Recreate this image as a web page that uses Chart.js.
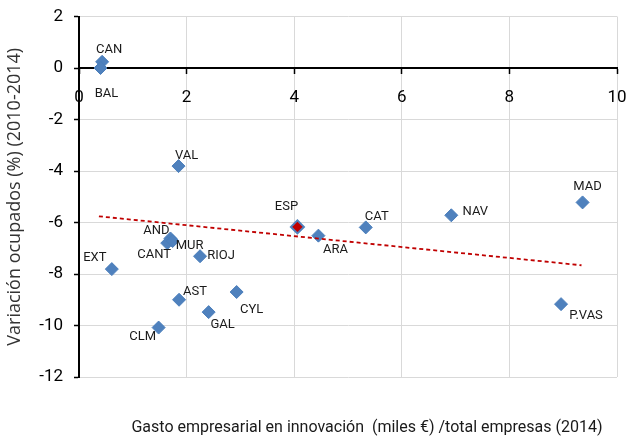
<!DOCTYPE html>
<html><head><meta charset="utf-8">
<script src="https://cdn.jsdelivr.net/npm/chart.js@4/dist/chart.umd.min.js"></script>
<style>html,body{margin:0;padding:0;background:#fff}</style>
</head><body>
<canvas id="c" width="627" height="439"></canvas>
<script>
// ---- data ----
const regions   = ['CAN','BAL','VAL','AND','CANT','MUR','RIOJ','EXT','AST','GAL','CYL','CLM','ARA','CAT','NAV','MAD','P.VAS'];
const gasto     = [0.43, 0.40, 1.85, 1.70, 1.64, 1.74, 2.25, 0.61, 1.86, 2.41, 2.93, 1.48, 4.45, 5.33, 6.92, 9.36, 8.96];
const variacion = [0.24, 0.00,-3.81,-6.62,-6.80,-6.72,-7.31,-7.81,-9.00,-9.48,-8.70,-10.08,-6.51,-6.19,-5.72,-5.22,-9.17];
const espRegion = ['ESP'];
const espGasto  = [4.06];
const espVariacion = [-6.17];
const trendGasto = [0.37, 9.34];
const trendVariacion = [-5.76, -7.66];
const xTickValues = [0, 2, 4, 6, 8, 10];
const yTickValues = [2, 0, -2, -4, -6, -8, -10, -12];
const xTitle = 'Gasto empresarial en innovación  (miles €) /total empresas (2014)';
const yTitle = 'Variación ocupados (%) (2010-2014)';

// ---- label placement (pixels, relative to the marker) ----
const labelOffsets = {
  'CAN':[7,-12],'BAL':[6,26],'VAL':[8,-10],'AND':[-14,-8],'CANT':[-13,12],'MUR':[17,5],
  'RIOJ':[21,0],'EXT':[-17,-11],'AST':[16,-8],'GAL':[14,13],'CYL':[15,18],'CLM':[-16,9],
  'ARA':[17,14],'CAT':[11,-11],'NAV':[24,-4],'MAD':[5,-16],'P.VAS':[25,12],'ESP':[-11,-20]
};
const FONT = 'Roboto, "Liberation Sans", sans-serif';

const labelPlugin = {
  id: 'pointLabels',
  afterDatasetsDraw(chart) {
    const ctx = chart.ctx;
    ctx.save();
    ctx.font = '13px ' + FONT;
    ctx.fillStyle = '#1a1a1a';
    ctx.textAlign = 'center';
    ctx.textBaseline = 'middle';
    chart.data.datasets.forEach((ds, di) => {
      if (!ds.names) return;
      const meta = chart.getDatasetMeta(di);
      meta.data.forEach((pt, i) => {
        const name = ds.names[i];
        const off = labelOffsets[name] || [0, -12];
        ctx.fillText(name, pt.x + off[0], pt.y + off[1]);
      });
    });
    ctx.restore();
  }
};
const xTitlePlugin = {
  id: 'xTitle',
  afterDraw(chart) {
    const ctx = chart.ctx, a = chart.chartArea;
    ctx.save();
    ctx.font = '16px ' + FONT;
    ctx.fillStyle = '#1a1a1a';
    ctx.textAlign = 'center';
    ctx.textBaseline = 'middle';
    ctx.fillText(xTitle, (a.left + a.right) / 2 + 19, a.bottom + 51);
    ctx.restore();
  }
};
const noPad = s => { s.paddingLeft = 0; s.paddingRight = 0; s.paddingTop = 0; s.paddingBottom = 0; };

new Chart(document.getElementById('c'), {
  type: 'scatter',
  data: {
    datasets: [
      {
        type: 'line',
        data: trendGasto.map((x, i) => ({x, y: trendVariacion[i]})),
        borderColor: '#C00000', borderWidth: 1.8, borderDash: [4, 3],
        pointRadius: 0, fill: false, order: 0
      },
      {
        names: espRegion,
        data: espGasto.map((x, i) => ({x, y: espVariacion[i]})),
        backgroundColor: '#C00000', borderColor: '#4F81BD', borderWidth: 2,
        pointStyle: 'rectRot', pointRadius: 6.5, order: 1
      },
      {
        names: regions,
        data: gasto.map((x, i) => ({x, y: variacion[i]})),
        backgroundColor: '#4F81BD', borderColor: '#4A7EBB', borderWidth: 1,
        pointStyle: 'rectRot', pointRadius: 6.5, order: 2
      }
    ]
  },
  options: {
    responsive: false,
    animation: false,
    devicePixelRatio: 1,
    layout: { padding: { top: 16.5, right: 10, bottom: 62, left: 0 } },
    plugins: { legend: { display: false }, tooltip: { enabled: false }, title: { display: false } },
    scales: {
      x: {
        type: 'linear', min: 0, max: 10,
        position: { y: 0 },
        afterBuildTicks: s => { s.ticks = xTickValues.map(v => ({value: v})); },
        afterFit: noPad,
        ticks: { color: '#000', font: { size: 17, family: FONT }, padding: 15 },
        grid: { color: '#D9D9D9', lineWidth: 1, tickColor: '#000', tickLength: 5, tickWidth: 1.5 },
        border: { color: '#000', width: 2 }
      },
      y: {
        type: 'linear', min: -12, max: 2,
        position: 'left',
        afterBuildTicks: s => { s.ticks = yTickValues.slice().reverse().map(v => ({value: v})); },
        afterFit: s => { s.width = 79; noPad(s); },
        ticks: { color: '#000', font: { size: 17, family: FONT }, padding: 11 },
        grid: { color: '#D9D9D9', lineWidth: 1, tickColor: '#000', tickLength: 5, tickWidth: 1.5 },
        border: { color: '#000', width: 2 },
        title: { display: true, text: yTitle, color: '#333',
                 font: { size: 18, family: '"Open Sans", sans-serif' }, padding: { top: 4, bottom: 0 } }
      }
    }
  },
  plugins: [labelPlugin, xTitlePlugin]
});
</script>
</body></html>
